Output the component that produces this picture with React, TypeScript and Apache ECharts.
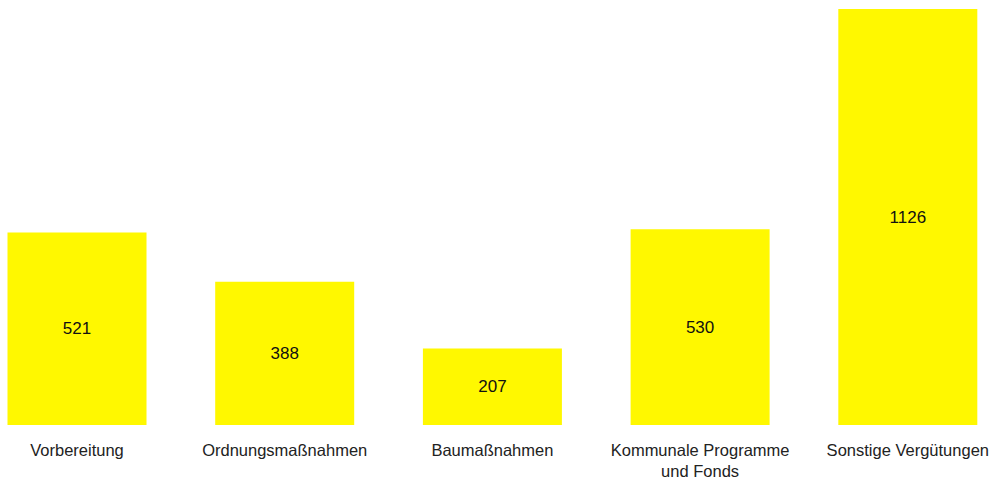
import React, { useEffect, useRef } from "react";
import * as echarts from "echarts";

const categories = [
  "Vorbereitung",
  "Ordnungsmaßnahmen",
  "Baumaßnahmen",
  "Kommunale Programme\nund Fonds",
  "Sonstige Vergütungen",
];
const values = [521, 388, 207, 530, 1126];

export default function App() {
  const ref = useRef<HTMLDivElement>(null);
  useEffect(() => {
    if (!ref.current) return;
    const chart = echarts.init(ref.current, undefined, { renderer: "svg" });
    chart.setOption({
      animation: false,
      grid: { left: 77, right: 84, top: 9, bottom: 51, containLabel: false },
      xAxis: {
        type: "category",
        data: categories,
        boundaryGap: false,
        axisLine: { show: false },
        axisTick: { show: false },
        axisLabel: {
          color: "#222",
          fontFamily: "Liberation Sans, Arial, sans-serif",
          fontSize: 16.5,
          margin: 14,
          lineHeight: 21,
          interval: 0,
        },
      },
      yAxis: {
        type: "value",
        min: 0,
        max: 1126,
        show: false,
        splitLine: { show: false },
      },
      series: [
        {
          type: "bar",
          data: values,
          barWidth: 139,
          itemStyle: { color: "#FFF800" },
          label: {
            show: true,
            position: "inside",
            color: "#111",
            fontFamily: "Liberation Sans, Arial, sans-serif",
            fontSize: 17,
          },
        },
      ],
    });
    return () => chart.dispose();
  }, []);
  return <div ref={ref} style={{ width: 992, height: 481, position: "absolute", left: 0, top: 0 }} />;
}
